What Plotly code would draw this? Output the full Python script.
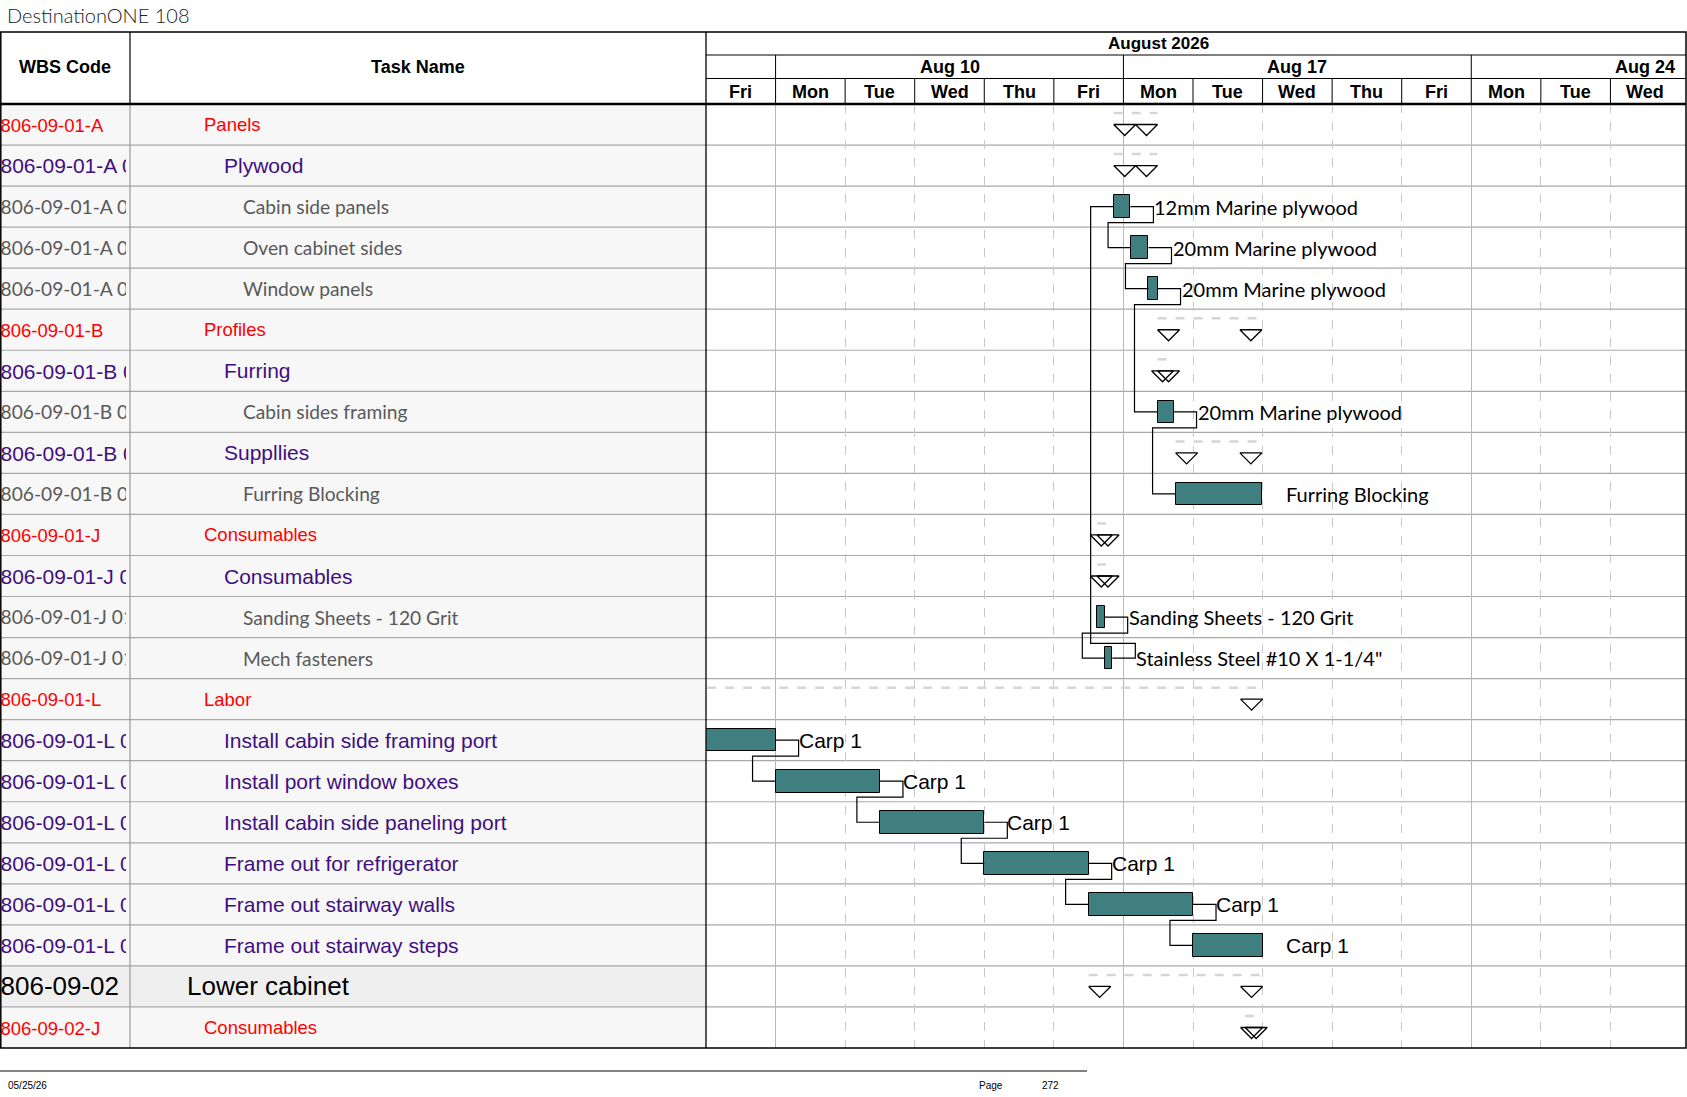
import plotly.graph_objects as go

W, H = 1687, 1097

# ---- table data ----
wbs_codes = [
    "806-09-01-A", "806-09-01-A 010", "806-09-01-A 010.010", "806-09-01-A 010.020", "806-09-01-A 010.030",
    "806-09-01-B", "806-09-01-B 010", "806-09-01-B 010.010", "806-09-01-B 020", "806-09-01-B 020.010",
    "806-09-01-J", "806-09-01-J 010", "806-09-01-J 010.010", "806-09-01-J 010.020",
    "806-09-01-L", "806-09-01-L 010", "806-09-01-L 020", "806-09-01-L 030", "806-09-01-L 040",
    "806-09-01-L 050", "806-09-01-L 060",
    "806-09-02", "806-09-02-J",
]
task_names = [
    "Panels", "Plywood", "Cabin side panels", "Oven cabinet sides", "Window panels",
    "Profiles", "Furring", "Cabin sides framing", "Suppllies", "Furring Blocking",
    "Consumables", "Consumables", "Sanding Sheets - 120 Grit", "Mech fasteners",
    "Labor", "Install cabin side framing port", "Install port window boxes",
    "Install cabin side paneling port", "Frame out for refrigerator", "Frame out stairway walls",
    "Frame out stairway steps",
    "Lower cabinet", "Consumables",
]
levels = [
    "sum1", "sum2", "task", "task", "task",
    "sum1", "sum2", "task", "sum2", "task",
    "sum1", "sum2", "task", "task",
    "sum1", "sum2", "sum2", "sum2", "sum2", "sum2", "sum2",
    "top", "sum1",
]

# ---- timescale (working days, Fri Aug 7 = 0) ----
day_names = ["Fri", "Mon", "Tue", "Wed", "Thu", "Fri", "Mon", "Tue", "Wed", "Thu", "Fri", "Mon", "Tue", "Wed"]
week_labels = ["Aug 10", "Aug 17", "Aug 24"]
week_starts = [1, 6, 11]
month_label = "August 2026"
month_span = [-4, 17]

# ---- task bars (in working days) ----
bar_rows = [2, 3, 4, 7, 9, 12, 13, 15, 16, 17, 18, 19, 20]
bar_start = [5.86, 6.11, 6.36, 6.49, 6.75, 5.62, 5.74, -0.5, 1.0, 2.5, 4.0, 5.5, 7.0]
bar_finish = [6.10, 6.36, 6.49, 6.72, 7.99, 5.73, 5.84, 1.0, 2.5, 4.0, 5.5, 7.0, 8.0]
bar_labels = ["12mm Marine plywood", "20mm Marine plywood", "20mm Marine plywood", "20mm Marine plywood",
              "Furring Blocking", "Sanding Sheets - 120 Grit", 'Stainless Steel #10 X 1-1/4"',
              "Carp 1", "Carp 1", "Carp 1", "Carp 1", "Carp 1", "Carp 1"]

# ---- summary tasks ----
summary_rows = [0, 1, 5, 6, 8, 10, 11, 14, 21, 22]
summary_start = [5.86, 5.86, 6.49, 6.49, 6.75, 5.62, 5.62, -0.5, 5.5, 7.75]
summary_finish = [6.49, 6.49, 7.99, 6.72, 7.99, 5.84, 5.84, 8.0, 8.0, 8.0]

# ---- links (predecessor row -> successor row) ----
link_pred = [13, 2, 3, 4, 7, 12, 15, 16, 17, 18, 19]
link_succ = [2, 3, 4, 7, 9, 13, 16, 17, 18, 19, 20]

ARIAL = "Liberation Sans, Arial, sans-serif"
CALIBRI = "Lato, Carlito, Calibri, sans-serif"
styles = {
    "sum1": dict(color="#FF0000", size=18.5, family=ARIAL, indent=202),
    "sum2": dict(color="#3F0F80", size=21, family=ARIAL, indent=222),
    "task": dict(color="#595959", size=19.2, family=CALIBRI, indent=241),
    "top": dict(color="#000000", size=26, family=ARIAL, indent=185),
}

X_WBS, X_TASK, X_GANTT, X_RIGHT = 126, 130, 706, 1686
Y_TOP, Y_MONTH, Y_WEEK, Y_HEAD, Y_BOTTOM = 32, 55, 78.5, 104, 1048
DAY_PX = 69.5
n_rows = len(task_names)


def px(x):
    return x / W


def py(y):
    return 1 - y / H


fig = go.Figure()

# WBS text, clipped to the column
for lvl, st in styles.items():
    idx = [i for i, l in enumerate(levels) if l == lvl]
    fig.add_trace(go.Scatter(
        x=[0.5] * len(idx), y=[i + 0.56 for i in idx], text=[wbs_codes[i] for i in idx],
        mode="text", textposition="middle right", cliponaxis=True,
        textfont=dict(color=st["color"], size=st["size"], family=st["family"]),
        xaxis="x", yaxis="y", showlegend=False, hoverinfo="skip"))

# task names
for i, name in enumerate(task_names):
    st = styles[levels[i]]
    fig.add_annotation(x=px(st["indent"]), xref="paper", y=i + 0.5, yref="y", text=name,
                       showarrow=False, xanchor="left", yanchor="middle",
                       font=dict(color=st["color"], size=st["size"], family=st["family"]))

# summary dashed lines and triangles
tri_w, tri_h = 22 / DAY_PX, 11 / 41
sx, sy, tx, ty = [], [], [], []
for r, s, f in zip(summary_rows, summary_start, summary_finish):
    yc = r + 0.5
    sx += [s, f, None]
    sy += [yc - 0.28, yc - 0.28, None]
    for left in (s, f - tri_w):
        tx += [left, left + tri_w, left + tri_w / 2, left, None]
        ty += [yc, yc, yc + tri_h, yc, None]
fig.add_trace(go.Scatter(x=sx, y=sy, mode="lines", line=dict(color="#D6D6D6", width=2.5, dash="dash"),
                         xaxis="x3", yaxis="y", showlegend=False, hoverinfo="skip"))
fig.add_trace(go.Scatter(x=tx, y=ty, mode="lines", fill="toself", fillcolor="white",
                         line=dict(color="black", width=1.3),
                         xaxis="x3", yaxis="y", showlegend=False, hoverinfo="skip"))

# links
gap = 23 / DAY_PX
lx, ly = [], []
for p, s in zip(link_pred, link_succ):
    pi, si = bar_rows.index(p), bar_rows.index(s)
    pe, ss = bar_finish[pi], bar_start[si]
    yc, ys = p + 0.5, s + 0.5
    off = 0.39 if s > p else -0.36
    lx += [pe, pe + gap, pe + gap, ss - gap, ss - gap, ss, None]
    ly += [yc, yc, yc + off, yc + off, ys, ys, None]
fig.add_trace(go.Scatter(x=lx, y=ly, mode="lines", line=dict(color="black", width=1.2),
                         xaxis="x3", yaxis="y", showlegend=False, hoverinfo="skip"))

# task bars
fig.add_trace(go.Bar(
    y=[r + 0.5 for r in bar_rows], x=[f - s for s, f in zip(bar_start, bar_finish)], base=bar_start,
    orientation="h", width=0.55, marker=dict(color="#3F7F7F", line=dict(color="black", width=1)),
    xaxis="x3", yaxis="y", showlegend=False, hoverinfo="skip"))

for r, f, lab in zip(bar_rows, bar_finish, bar_labels):
    fam, size, shift = (ARIAL, 21, -3) if levels[r] == "sum2" else (CALIBRI, 20, -2)
    fig.add_annotation(x=f + 24 / DAY_PX, xref="x3", y=r + 0.5, yref="y", text=lab, showarrow=False,
                       xanchor="left", yanchor="middle", xshift=shift,
                       font=dict(color="black", size=size, family=fam))

# ---- shapes: backgrounds, grid, borders ----
shapes = []
for i, lvl in enumerate(levels):
    shapes.append(dict(type="rect", xref="paper", yref="y", x0=0, x1=px(X_GANTT), y0=i, y1=i + 1,
                       fillcolor="#EFEFEF" if lvl == "top" else "#F7F7F7", line_width=0, layer="below"))
for i in range(1, n_rows):
    shapes.append(dict(type="line", xref="paper", yref="y", x0=0, x1=px(X_RIGHT), y0=i, y1=i,
                       line=dict(color="#A8A8A8", width=1.2), layer="between"))
# column dividers
shapes.append(dict(type="line", xref="paper", yref="paper", x0=px(X_TASK), x1=px(X_TASK),
                   y0=py(Y_HEAD), y1=py(Y_BOTTOM), line=dict(color="#9A9A9A", width=1.2)))
shapes.append(dict(type="line", xref="paper", yref="paper", x0=px(X_TASK), x1=px(X_TASK),
                   y0=py(Y_TOP), y1=py(Y_HEAD), line=dict(color="black", width=1.2)))
shapes.append(dict(type="line", xref="paper", yref="paper", x0=px(X_GANTT), x1=px(X_GANTT),
                   y0=py(Y_TOP), y1=py(Y_BOTTOM), line=dict(color="black", width=1.3)))
# header rows
for yy in (Y_MONTH, Y_WEEK):
    shapes.append(dict(type="line", xref="paper", yref="paper", x0=px(X_GANTT), x1=px(X_RIGHT),
                       y0=py(yy), y1=py(yy), line=dict(color="black", width=1)))
for ws in week_starts:
    shapes.append(dict(type="line", xref="x3", yref="paper", x0=ws, x1=ws, y0=py(Y_MONTH), y1=py(Y_WEEK),
                       line=dict(color="black", width=1)))
for d in range(1, len(day_names)):
    shapes.append(dict(type="line", xref="x3", yref="paper", x0=d, x1=d, y0=py(Y_WEEK), y1=py(Y_HEAD),
                       line=dict(color="black", width=1)))
shapes.append(dict(type="line", xref="paper", yref="paper", x0=0, x1=px(X_RIGHT), y0=py(Y_HEAD), y1=py(Y_HEAD),
                   line=dict(color="black", width=2.5)))
shapes.append(dict(type="rect", xref="paper", yref="paper", x0=px(0.8), x1=px(X_RIGHT), y0=py(Y_TOP),
                   y1=py(Y_BOTTOM), line=dict(color="black", width=1.5)))
# footer rule
shapes.append(dict(type="line", xref="paper", yref="paper", x0=0, x1=px(1087), y0=py(1071), y1=py(1071),
                   line=dict(color="black", width=1)))

# ---- header text ----
hfont = dict(family=ARIAL, size=18, color="black")


def head(text, x, y, xref="paper", font=hfont, xanchor="center"):
    fig.add_annotation(x=x, xref=xref, y=py(y), yref="paper", text=text, showarrow=False,
                       xanchor=xanchor, yanchor="middle", font=font)


head("<b>WBS Code</b>", px(65), 67)
head("<b>Task Name</b>", px(418), 67)
head("<b>" + month_label + "</b>", sum(month_span) / 2, (Y_TOP + Y_MONTH) / 2, xref="x3",
     font=dict(family=ARIAL, size=17, color="black"))
for lab, ws in zip(week_labels, week_starts):
    head("<b>" + lab + "</b>", ws + 2.5, (Y_MONTH + Y_WEEK) / 2, xref="x3")
for d, name in enumerate(day_names):
    head("<b>" + name + "</b>", d + 0.5, (Y_WEEK + Y_HEAD) / 2 + 0.5, xref="x3")

head("DestinationONE 108", px(5), 15, xanchor="left",
     font=dict(family="Lato, sans-serif", size=20, color="#222222", weight=300))
ffont = dict(family=ARIAL, size=10, color="black")
head("05/25/26", px(6), 1085, xanchor="left", font=ffont)
head("Page", px(977), 1085, xanchor="left", font=ffont)
head("272", px(1040), 1085, xanchor="left", font=ffont)

body = [py(Y_BOTTOM), py(Y_HEAD)]
fig.update_layout(
    width=W, height=H, margin=dict(l=0, r=0, t=0, b=0),
    template="none", paper_bgcolor="white", plot_bgcolor="rgba(0,0,0,0)",
    shapes=shapes, bargap=0,
    xaxis=dict(domain=[0, px(X_WBS)], range=[0, X_WBS], visible=False, fixedrange=True, anchor="y"),
    xaxis2=dict(domain=[px(X_TASK), px(X_GANTT)], range=[0, 1], visible=False, anchor="y"),
    xaxis3=dict(domain=[px(X_GANTT), px(X_RIGHT)], range=[0, (X_RIGHT - X_GANTT - 1) / DAY_PX], anchor="y",
                showticklabels=False, ticks="", zeroline=False, showline=False,
                tickmode="array", tickvals=week_starts, showgrid=True, gridcolor="#B8B8B8", gridwidth=1,
                minor=dict(tickmode="array", tickvals=list(range(1, len(day_names))), showgrid=True,
                           griddash="dash", gridcolor="#C8C8C8", gridwidth=1)),
    yaxis=dict(domain=body, range=[n_rows, 0], visible=False, anchor="x"),
)

fig.write_html("out.html", config={"displayModeBar": False},
               post_script="document.body.style.margin='0';")
